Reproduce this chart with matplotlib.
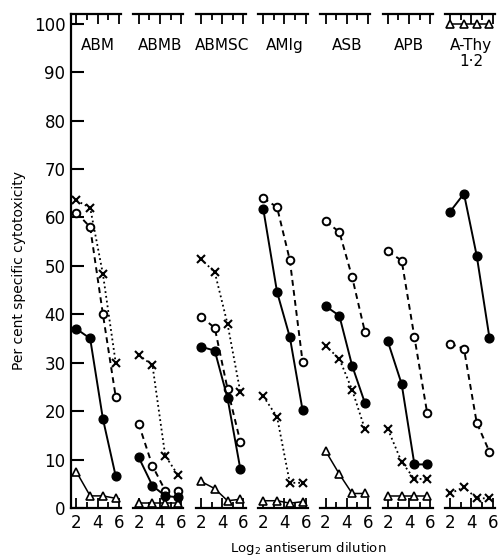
import matplotlib.pyplot as plt
from matplotlib.ticker import FixedLocator

# panel names and log2 dilution steps
panels = ['ABM', 'ABMB', 'ABMSC', 'AMIg', 'ASB', 'APB', 'A-Thy\n1·2']
dilution = [2, 3.3, 4.5, 5.7]

# per cent specific cytotoxicity, one row per panel
filled = [[37, 35, 18.4, 6.6],
          [10.5, 4.6, 2.5, 2.2],
          [33.3, 32.5, 22.7, 8.1],
          [61.8, 44.6, 35.3, 20.2],
          [41.7, 39.7, 29.4, 21.7],
          [34.4, 25.6, 9, 9],
          [61.2, 64.9, 52.1, 35.1]]
hollow = [[61, 58, 40, 23],
          [17.4, 8.7, 3.6, 3.6],
          [39.5, 37.2, 24.6, 13.7],
          [64, 62.1, 51.2, 30.2],
          [59.2, 57, 47.7, 36.4],
          [53, 51.1, 35.3, 19.6],
          [33.9, 32.9, 17.6, 11.6]]
cross = [[63.5, 62, 48.3, 30],
         [31.6, 29.5, 10.8, 6.8],
         [51.4, 48.7, 38, 24],
         [23.1, 18.8, 5.2, 5.2],
         [33.5, 30.8, 24.4, 16.3],
         [16.3, 9.5, 6, 6],
         [3, 4.3, 2, 2]]
triangle = [[7.5, 2.5, 2.5, 2],
            [1, 1, 1, 1],
            [5.5, 4, 1.5, 1.8],
            [1.5, 1.5, 1, 1.3],
            [11.8, 7, 3, 3],
            [2.5, 2.5, 2.5, 2.5],
            [100, 100, 100, 100]]

W, H = 504, 557
fig = plt.figure(figsize=(W / 100, H / 100), dpi=100)

left0, step, pw = 71, 62.3, 50
top_px, bot_px = 14, 508

for i, name in enumerate(panels):
    ax = fig.add_axes([(left0 + i * step) / W, 1 - bot_px / H, pw / W, (bot_px - top_px) / H])
    ax.set_xlim(1.5, 6.2)
    ax.set_ylim(0, 102)

    ax.plot(dilution, triangle[i], '-', color='k', lw=1.1, marker='^', ms=5.5,
            mfc='white', mec='k', mew=1.2, clip_on=False, zorder=3)
    ax.plot(dilution, cross[i], ':', color='k', lw=1.3, marker='x', ms=6,
            mew=1.5, clip_on=False, zorder=4)
    ax.plot(dilution, hollow[i], color='k', lw=1.4, ls=(0, (3, 2.2)), marker='o', ms=5.5,
            mfc='white', mec='k', mew=1.4, clip_on=False, zorder=5)
    ax.plot(dilution, filled[i], '-', color='k', lw=1.4, marker='o', ms=6.3,
            mfc='k', mec='k', clip_on=False, zorder=6)

    ax.text(4.0, 97, name, ha='center', va='top', fontsize=11, linespacing=1.1)

    for s in ['top', 'bottom', 'left']:
        ax.spines[s].set_linewidth(1.6)
    ax.spines['right'].set_visible(False)

    ax.xaxis.set_major_locator(FixedLocator([2, 4, 6]))
    ax.xaxis.set_minor_locator(FixedLocator([3, 5]))
    ax.set_xticklabels(['2', '4', '6'])
    ax.tick_params(axis='x', which='both', direction='in', top=True, bottom=True,
                   width=1.3, labelsize=12, pad=4)
    ax.tick_params(axis='x', which='major', length=7)
    ax.tick_params(axis='x', which='minor', length=4)

    if i == 0:
        ax.set_yticks(range(0, 101, 10))
        ax.tick_params(axis='y', direction='in', length=9, width=1.5, labelsize=12, pad=4)
    else:
        ax.spines['left'].set_visible(False)
        ax.set_yticks([])

fig.text(0.037, 0.515, 'Per cent specific cytotoxicity', rotation=90,
         ha='center', va='center', fontsize=10)
fig.text(0.611, 0.016, r'Log$_2$ antiserum dilution', ha='center', va='center', fontsize=9.5)

fig.savefig('out.png', dpi=100)
